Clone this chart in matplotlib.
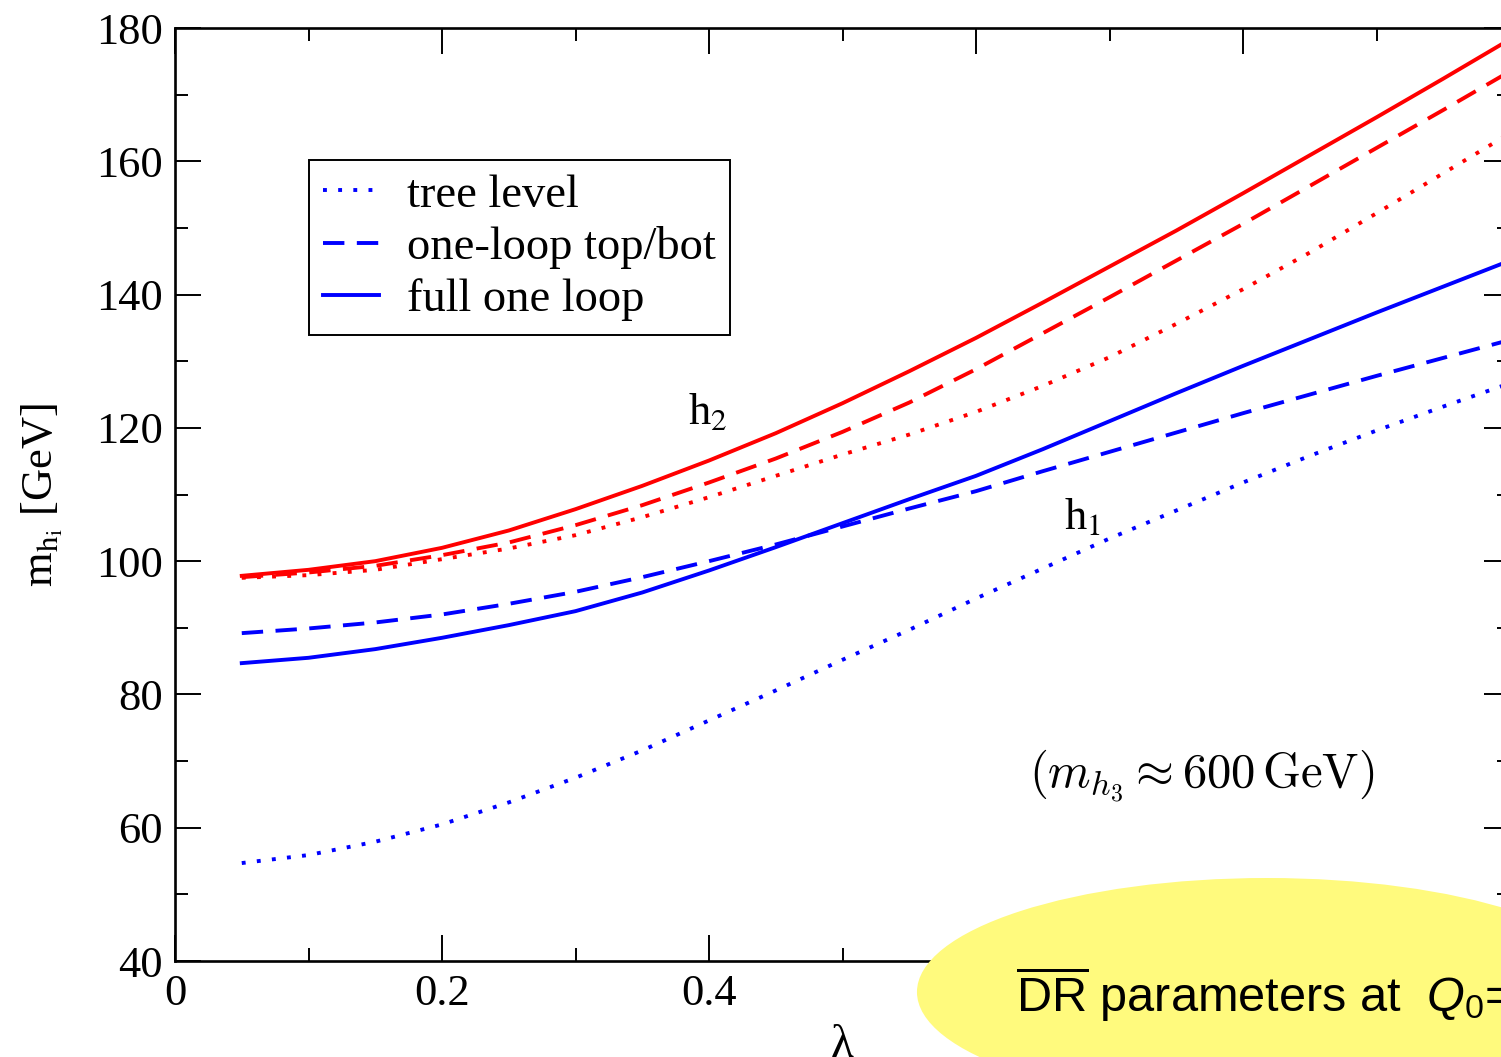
import matplotlib
matplotlib.use("Agg")
import matplotlib.pyplot as plt
from matplotlib.patches import Ellipse
from matplotlib.ticker import MultipleLocator

plt.rcParams['font.family'] = ['Liberation Serif', 'DejaVu Serif']
plt.rcParams['mathtext.fontset'] = 'custom'
plt.rcParams['mathtext.rm'] = 'Liberation Sans'
plt.rcParams['mathtext.it'] = 'Liberation Sans:italic'

lam = [0.05, 0.10, 0.15, 0.20, 0.25, 0.30, 0.35, 0.40, 0.45, 0.50,
       0.55, 0.60, 0.65, 0.70, 0.75, 0.80, 0.85, 0.90, 0.95, 1.00]

# h2 (heavier state)
h2_tree = [97.5, 97.9, 98.7, 100.3, 101.9, 103.9, 106.6, 109.6, 112.8, 116.0,
           119.0, 122.4, 126.3, 130.6, 135.6, 140.8, 146.3, 152.2, 158.2, 164.2]
h2_top = [97.6, 98.3, 99.3, 100.9, 102.8, 105.4, 108.4, 111.8, 115.4, 119.4,
          123.8, 128.8, 134.2, 139.6, 145.1, 150.6, 156.3, 162.0, 167.7, 173.5]
h2_full = [97.8, 98.7, 100.0, 102.0, 104.6, 107.8, 111.3, 115.1, 119.2, 123.7,
           128.5, 133.5, 138.8, 144.2, 149.6, 155.2, 160.9, 166.6, 172.4, 178.3]

# h1 (lighter state)
h1_tree = [54.7, 55.9, 57.9, 60.5, 63.8, 67.5, 71.6, 76.1, 80.6, 85.2,
           89.7, 94.4, 98.9, 103.4, 107.6, 111.8, 115.8, 119.6, 123.2, 126.7]
h1_top = [89.2, 89.9, 90.8, 92.0, 93.6, 95.4, 97.6, 100.0, 102.5, 105.2,
          107.9, 110.5, 113.5, 116.4, 119.3, 122.2, 125.0, 127.8, 130.5, 133.2]
h1_full = [84.7, 85.5, 86.8, 88.5, 90.4, 92.5, 95.3, 98.6, 102.1, 105.7,
           109.3, 112.8, 116.8, 121.0, 125.2, 129.3, 133.3, 137.3, 141.2, 145.1]

labels = ['tree level', 'one-loop top/bot', 'full one loop']

fig = plt.figure(figsize=(15.01, 10.57), dpi=100)
ax = fig.add_axes([0.1166, 0.0908, 0.8894, 0.8827])

lw = 2.8
dot = (0, (1, 2.9))
dash = (0, (5.5, 3.2))

ax.plot(lam, h1_tree, color='blue', lw=lw, linestyle=dot, dash_capstyle='butt', label=labels[0])
ax.plot(lam, h1_top, color='blue', lw=lw, linestyle=dash, dash_capstyle='butt', label=labels[1])
ax.plot(lam, h1_full, color='blue', lw=lw, linestyle='-', label=labels[2])
ax.plot(lam, h2_tree, color='red', lw=lw, linestyle=dot, dash_capstyle='butt')
ax.plot(lam, h2_top, color='red', lw=lw, linestyle=dash, dash_capstyle='butt')
ax.plot(lam, h2_full, color='red', lw=lw, linestyle='-')

ax.set_xlim(0, 1.0)
ax.set_ylim(40, 180)
ax.xaxis.set_major_locator(MultipleLocator(0.2))
ax.xaxis.set_minor_locator(MultipleLocator(0.1))
ax.yaxis.set_major_locator(MultipleLocator(20))
ax.yaxis.set_minor_locator(MultipleLocator(10))
ax.xaxis.set_major_formatter(plt.FuncFormatter(lambda v, p: '0' if v == 0 else f'{v:g}'))

ax.tick_params(which='both', direction='in', top=True, right=True, width=1.4, labelsize=32)
ax.tick_params(which='major', length=18.5, pad=9)
ax.tick_params(which='minor', length=9.5)
for s in ax.spines.values():
    s.set_linewidth(1.9)

ax.set_xlabel('λ', fontsize=34, labelpad=8)
ax.set_ylabel(r'm$_{\mathrm{h_i}}$ [GeV]', fontsize=32, labelpad=22, math_fontfamily='stix')

ax.text(0.384, 120.6, r'h$_{2}$', fontsize=32, math_fontfamily='stix')
ax.text(0.666, 104.8, r'h$_{1}$', fontsize=32, math_fontfamily='stix')
ax.text(0.64, 66, r'$(m_{h_3} \approx 600\,\mathrm{GeV})$', fontsize=35, math_fontfamily='cm')

leg = ax.legend(loc='upper left', bbox_to_anchor=(0.1004, 0.8585), fontsize=33.5,
                frameon=True, fancybox=False, framealpha=1, edgecolor='black',
                handlelength=1.2, handletextpad=0.6, borderpad=0.3, labelspacing=0.2,
                borderaxespad=0)
leg.get_frame().set_linewidth(1.4)
for ln in leg.get_lines():
    ln.set_linewidth(lw)

# yellow bubble with the scheme note
fig.add_artist(Ellipse((0.8441, 0.0615), 0.4664, 0.2157, transform=fig.transFigure,
                       facecolor='#fffa7d', edgecolor='none', zorder=5))
fig.text(0.677, 0.0426, r'$\overline{\mathrm{DR}}$ parameters at  $Q_{\mathit{0}}$=',
         fontsize=35, family='Liberation Sans', math_fontfamily='custom',
         va='baseline', zorder=6)

fig.savefig('out.png', dpi=100)
